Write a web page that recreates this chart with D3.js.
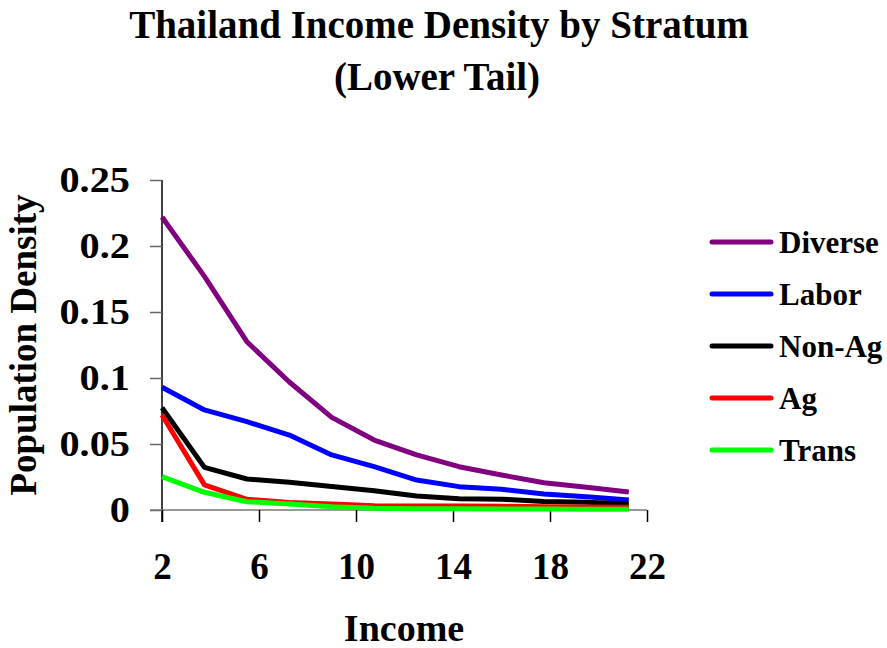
<!DOCTYPE html>
<html><head><meta charset="utf-8">
<script src="https://cdn.jsdelivr.net/npm/d3@7"></script>
<style>body{margin:0;background:#fff}svg{display:block}text{font-family:"Liberation Serif","Times New Roman",serif;font-weight:bold;fill:#000}</style>
</head><body><svg id="c" width="887" height="648"></svg>
<script>
const incomes = [2, 3.75, 5.5, 7.25, 9, 10.75, 12.5, 14.25, 16, 17.75, 19.5, 21.25];
const diverse = [0.222, 0.177, 0.1275, 0.097, 0.0702, 0.053, 0.0417, 0.0328, 0.0265, 0.0207, 0.0172, 0.0136];
const labor   = [0.093, 0.0758, 0.0669, 0.0568, 0.0417, 0.0328, 0.0227, 0.0177, 0.0157, 0.0121, 0.0101, 0.0076];
const nonAg   = [0.0775, 0.0323, 0.0235, 0.021, 0.0178, 0.0146, 0.0106, 0.0085, 0.0082, 0.0065, 0.0058, 0.0045];
const ag      = [0.072, 0.019, 0.0081, 0.0056, 0.0045, 0.0033, 0.003, 0.003, 0.0028, 0.0025, 0.0022, 0.002];
const trans   = [0.0253, 0.0134, 0.0063, 0.0045, 0.0025, 0.0013, 0.001, 0.0009, 0.0008, 0.0007, 0.0006, 0.0005];
const seriesNames = ["Diverse", "Labor", "Non-Ag", "Ag", "Trans"];
const seriesColors = ["#800080", "#0000ff", "#000000", "#ff0000", "#00ff00"];
const xTicks = [2, 6, 10, 14, 18, 22];
const yTicks = [0, 0.05, 0.1, 0.15, 0.2, 0.25];
const yTickLabels = ["0", "0.05", "0.1", "0.15", "0.2", "0.25"];

const seriesValues = [diverse, labor, nonAg, ag, trans];
const svg = d3.select("#c");
const x = d3.scaleLinear().domain([2, 22]).range([162, 647]);
const y = d3.scaleLinear().domain([0, 0.25]).range([510, 180]);

// title
svg.append("text").attr("x", 439).attr("y", 38).attr("text-anchor", "middle").attr("font-size", 39).text("Thailand Income Density by Stratum");
svg.append("text").attr("x", 437).attr("y", 90).attr("text-anchor", "middle").attr("font-size", 39).text("(Lower Tail)");

// y axis
const yAx = svg.append("g").attr("transform", "translate(162,0)")
  .call(d3.axisLeft(y).tickValues(yTicks).tickSize(12).tickFormat((d, i) => yTickLabels[i]));
yAx.select(".domain").attr("stroke", "#000").attr("stroke-width", 1.5).attr("d", "M0,180V522");
yAx.selectAll(".tick line").attr("stroke", "#666").attr("stroke-width", 1.5);
yAx.selectAll(".tick text").attr("font-size", 36).attr("font-family", "Liberation Serif").attr("font-weight", "bold")
  .attr("x", 0).attr("dy", "0.33em").attr("transform", "translate(-32,0) scale(1.12,1)");

// x axis
const xAx = svg.append("g").attr("transform", "translate(0,510)")
  .call(d3.axisBottom(x).tickValues(xTicks).tickSize(12).tickFormat(d3.format("d")));
xAx.select(".domain").attr("stroke", "#777").attr("stroke-width", 1.5).attr("d", "M150,0H647");
xAx.selectAll(".tick line").attr("stroke", "#000").attr("stroke-width", 1.5);
xAx.selectAll(".tick text").attr("font-size", 37).attr("font-family", "Liberation Serif").attr("font-weight", "bold").attr("y", 69).attr("dy", 0);

// axis titles
svg.append("text").attr("transform", "translate(36,345) rotate(-90)").attr("text-anchor", "middle").attr("font-size", 37).text("Population Density");
svg.append("text").attr("x", 404).attr("y", 641).attr("text-anchor", "middle").attr("font-size", 38).text("Income");

// lines
const line = d3.line().x((d, i) => x(incomes[i])).y(d => y(d));
seriesValues.forEach((vals, k) => {
  svg.append("path").datum(vals).attr("d", line)
    .attr("fill", "none").attr("stroke", seriesColors[k]).attr("stroke-width", 5)
    .attr("stroke-linejoin", "round");
});

// legend
const lg = svg.append("g");
seriesNames.forEach((n, i) => {
  const yy = 242 + i * 52;
  lg.append("line").attr("x1", 712).attr("x2", 771).attr("y1", yy).attr("y2", yy)
    .attr("stroke", seriesColors[i]).attr("stroke-width", 5).attr("stroke-linecap", "round");
  lg.append("text").attr("x", 779).attr("y", yy).attr("dy", "0.35em").attr("font-size", 31).text(n);
});
</script></body></html>
